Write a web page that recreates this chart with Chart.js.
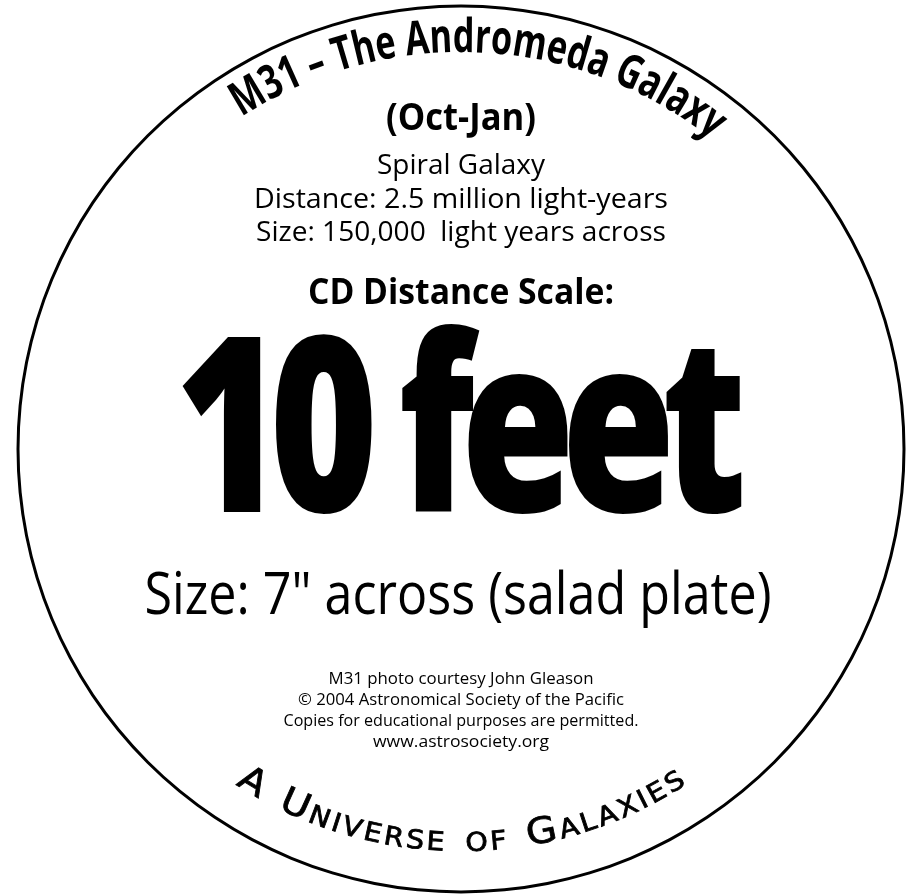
<!DOCTYPE html>
<html>
<head>
<meta charset="utf-8">
<script src="https://cdn.jsdelivr.net/npm/chart.js@4.4.1/dist/chart.umd.min.js"></script>
<style>
  html, body { margin: 0; padding: 0; background: #fff; }
  #wrap { width: 915px; height: 894px; }
</style>
</head>
<body>
<div id="wrap"><canvas id="myChart" width="915" height="894"></canvas></div>
<script>
// the disc itself: one full ring
var discLabels = ['CD'];
var discValues = [1];

// texts on the label
var arcTitle = 'M31 – The Andromeda Galaxy';
var arcFooter = 'A Universe of Galaxies';
var infoLines = ['(Oct-Jan)', 'Spiral Galaxy', 'Distance: 2.5 million light-years', 'Size: 150,000  light years across', 'CD Distance Scale:'];
var scaleText = '10 feet';
var sizeText = 'Size: 7" across (salad plate)';
var creditLines = ['M31 photo courtesy John Gleason', '\u00A9 2004 Astronomical Society of the Pacific', 'Copies for educational purposes are permitted.', 'www.astrosociety.org'];

// how each centred line is set: size, weight, baseline offset from disc centre, width
var infoStyle = [
    { size: 38, weight: 'bold', dy: -319, w: 150 },
    { size: 27, weight: 'normal', dy: -275, w: 168 },
    { size: 27, weight: 'normal', dy: -241, w: 414 },
    { size: 27, weight: 'normal', dy: -208, w: 410 },
    { size: 36, weight: 'bold', dy: -145, w: 306 }
];
var scaleStyle = { size: 245, weight: '800', dy: 63, w: 572, gap: -14 };
var sizeStyle = { size: 59, weight: 'normal', dy: 165, w: 627 };
var creditStyle = [
    { size: 16, weight: 'normal', dy: 235, w: 265 },
    { size: 16, weight: 'normal', dy: 256, w: 326 },
    { size: 16, weight: 'normal', dy: 277, w: 355 },
    { size: 16, weight: 'normal', dy: 298, w: 176 }
];

var FONT = '"Open Sans", "Noto Sans", sans-serif';

function drawLine(ctx, text, cx, y, st) {
    ctx.font = st.weight + ' ' + st.size + 'px ' + FONT;
    ctx.textBaseline = 'alphabetic';
    if (!st.gap) {
        var sx = st.w / ctx.measureText(text).width;
        ctx.save();
        ctx.translate(cx, y);
        ctx.scale(sx, 1);
        ctx.textAlign = 'center';
        ctx.fillText(text, 0, 0);
        ctx.restore();
        return;
    }
    var chars = Array.from(text);
    var ws = chars.map(function (c) { return ctx.measureText(c).width; });
    var total = ws.reduce(function (a, b) { return a + b; }, 0);
    var sx2 = (st.w - st.gap * (chars.length - 1)) / total;
    var x = cx - st.w / 2;
    ctx.textAlign = 'left';
    chars.forEach(function (c, i) {
        ctx.save();
        ctx.translate(x, y);
        ctx.scale(sx2, 1);
        ctx.fillText(c, 0, 0);
        ctx.restore();
        x += ws[i] * sx2 + st.gap;
    });
}

// text running over the top, letters pointing outwards
function drawArcTop(ctx, text, cx, cy, r, a0, a1, size) {
    ctx.font = 'bold ' + size + 'px ' + FONT;
    var chars = Array.from(text);
    var ws = chars.map(function (c) { return ctx.measureText(c).width; });
    var total = ws.reduce(function (a, b) { return a + b; }, 0);
    var sx = (a1 - a0) * r / total;
    var a = a0;
    ctx.textAlign = 'center';
    ctx.textBaseline = 'alphabetic';
    chars.forEach(function (c, i) {
        var w = ws[i] * sx;
        var mid = a + w / 2 / r;
        ctx.save();
        ctx.translate(cx + r * Math.sin(mid), cy - r * Math.cos(mid));
        ctx.rotate(mid);
        ctx.scale(sx, 1);
        ctx.fillText(c, 0, 0);
        ctx.restore();
        a += w / r;
    });
}

// small caps text along the bottom, letters pointing to the centre
function drawArcBottom(ctx, text, cx, cy, r, half, big, small, track) {
    var chars = Array.from(text);
    var items = chars.map(function (c) {
        var isBig = c !== ' ' && c === c.toUpperCase();
        var f = 'normal ' + (isBig ? big : small) + 'px "DejaVu Sans", sans-serif';
        ctx.font = f;
        var ch = c.toUpperCase();
        var w = c === ' ' ? small * 0.55 : ctx.measureText(ch).width;
        return { ch: ch, f: f, w: w };
    });
    var total = items.reduce(function (a, b) { return a + b.w; }, 0);
    var span = 2 * half * r - track * (items.length - 1);
    var sx = span / total;
    var a = -half;
    ctx.textAlign = 'center';
    ctx.textBaseline = 'alphabetic';
    items.forEach(function (it) {
        var w = it.w * sx;
        var mid = a + w / 2 / r;
        if (it.ch !== ' ') {
            ctx.save();
            ctx.font = it.f;
            ctx.translate(cx + r * Math.sin(mid), cy + r * Math.cos(mid));
            ctx.rotate(-mid);
            ctx.scale(sx, 1);
            ctx.fillText(it.ch, 0, 0);
            ctx.lineWidth = 0.8;
            ctx.strokeText(it.ch, 0, 0);
            ctx.restore();
        }
        a += (w + track) / r;
    });
}

var labelText = {
    id: 'labelText',
    afterDraw: function (chart) {
        var ctx = chart.ctx;
        var arc = chart.getDatasetMeta(0).data[0];
        var cx = arc.x, cy = arc.y;
        var deg = Math.PI / 180;
        ctx.save();
        ctx.fillStyle = '#000';
        ctx.strokeStyle = '#000';
        drawArcTop(ctx, arcTitle, cx, cy + 6, 403, -33 * deg, 38.5 * deg, 47);
        infoLines.forEach(function (t, i) { drawLine(ctx, t, cx, cy + infoStyle[i].dy, infoStyle[i]); });
        drawLine(ctx, scaleText, cx, cy + scaleStyle.dy, scaleStyle);
        drawLine(ctx, sizeText, cx - 3, cy + sizeStyle.dy, sizeStyle);
        creditLines.forEach(function (t, i) { drawLine(ctx, t, cx, cy + creditStyle[i].dy, creditStyle[i]); });
        drawArcBottom(ctx, arcFooter, cx, cy - 12, 414, 33 * deg, 36, 26, 3);
        ctx.restore();
    }
};

const ctx = document.getElementById('myChart');
new Chart(ctx, {
    type: 'doughnut',
    data: {
        labels: discLabels,
        datasets: [{
            data: discValues,
            backgroundColor: ['#000'],
            borderWidth: 0,
            hoverOffset: 0,
            offset: 0
        }]
    },
    options: {
        responsive: false,
        animation: false,
        devicePixelRatio: 1,
        cutout: 441.5,
        layout: { padding: { left: 16.5, top: 4.5, right: 9.5, bottom: 0.5 } },
        plugins: {
            legend: { display: false },
            tooltip: { enabled: false }
        }
    },
    plugins: [labelText]
});
</script>
</body>
</html>
